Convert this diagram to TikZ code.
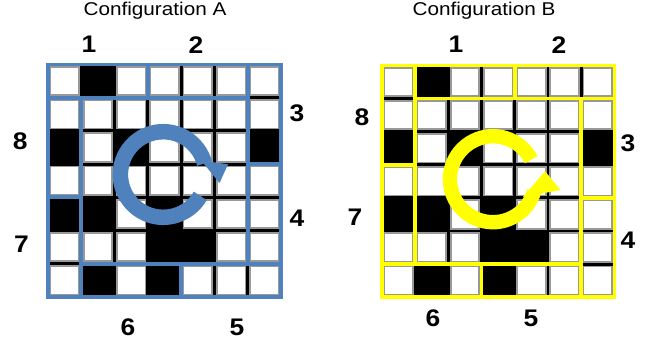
\documentclass[tikz,border=0pt]{standalone}
\usepackage{fontspec}
\setmainfont{Liberation Sans}
\definecolor{gblue}{RGB}{79,129,189}
\definecolor{gyel}{RGB}{255,255,0}
\tikzset{
  num/.style={font=\fontsize{24}{24}\selectfont\bfseries, inner sep=0pt, xscale=1.1},
  ttl/.style={font=\fontsize{18.5}{20}\selectfont, inner sep=0pt, anchor=base, xscale=1.12},
  whitecell/.style={fill=white, draw=black!40, line width=1.8pt},
  partA/.style={gblue, line width=3.7pt, line cap=rect},
  partB/.style={gyel, line width=3.7pt, line cap=rect},
}
\newcommand{\crossgrid}{%
  \fill[black] (0,0) rectangle (7,7);
  \foreach \c in {1,...,7}{\foreach \r in {1,...,7}{%
    \filldraw[whitecell] (\c-1+0.07,\r-1+0.07) rectangle (\c-0.07,\r-0.07);}}
  \foreach \c/\r in {2/1,1/3,3/3,7/3,1/5,2/5,4/5,4/6,5/6,2/7,4/7}{%
    \fill[black] (\c-1,\r-1) rectangle (\c,\r);}
}
\begin{document}
\begin{tikzpicture}[x=1pt,y=-1pt]
\useasboundingbox[fill=white] (0,0) rectangle (657,345);
% grid A
\begin{scope}[shift={(48,64.5)}, x=33.3pt, y=-33.2pt]
  \crossgrid
  \draw[partA] (0,0) rectangle (7,7);
  \draw[partA] (3,0) -- (3,1);
  \draw[partA] (6,0) -- (6,6);
  \draw[partA] (0,1) -- (6,1);
  \draw[partA] (6,3) -- (7,3);
  \draw[partA] (1,6) -- (7,6);
  \draw[partA] (1,1) -- (1,7);
  \draw[partA] (0,4) -- (1,4);
  \draw[partA] (4,6) -- (4,7);
\end{scope}
% grid B
\begin{scope}[shift={(382,65.5)}, x=33.2pt, y=-33.1pt]
  \crossgrid
  \draw[partB] (0,0) rectangle (7,7);
  \draw[partB] (1,0) -- (1,6);
  \draw[partB] (0,3) -- (1,3);
  \draw[partB] (0,6) -- (6,6);
  \draw[partB] (3,6) -- (3,7);
  \draw[partB] (6,1) -- (6,7);
  \draw[partB] (6,4) -- (7,4);
  \draw[partB] (1,1) -- (7,1);
  \draw[partB] (4,0) -- (4,1);
\end{scope}
% circular arrow A (clockwise)
\draw[gblue, line width=15.5pt] (163.2,174.5) ++(30:42.8) arc[start angle=30, end angle=345, radius=42.8];
\fill[gblue] (201.2,160.5) -- (228,164.3) -- (219.5,183) -- cycle;
% circular arrow B (counter-clockwise)
\draw[gyel, line width=14.4pt] (492.9,179.2) ++(-27:43) arc[start angle=-27, end angle=-343, radius=43];
\fill[gyel] (523,197) -- (560.5,190) -- (545,171.2) -- cycle;
% titles
\node[ttl] (tA) at (155,16) {Configuration A};
\node[ttl] (tB) at (484,16) {Configuration B};
% labels A
\node[num] (a1) at (89,44.7) {1};
\node[num] (a2) at (196,44.7) {2};
\node[num] (a3) at (297,113) {3};
\node[num] (a4) at (297,218) {4};
\node[num] (a5) at (237,327) {5};
\node[num] (a6) at (128,327) {6};
\node[num] (a7) at (21.5,244) {7};
\node[num] (a8) at (20.3,141.7) {8};
% labels B
\node[num] (b1) at (456,44.7) {1};
\node[num] (b2) at (559,44.7) {2};
\node[num] (b3) at (628,143) {3};
\node[num] (b4) at (628,240) {4};
\node[num] (b5) at (531,318) {5};
\node[num] (b6) at (433,318) {6};
\node[num] (b7) at (355,217) {7};
\node[num] (b8) at (362,117) {8};
\end{tikzpicture}
\end{document}
